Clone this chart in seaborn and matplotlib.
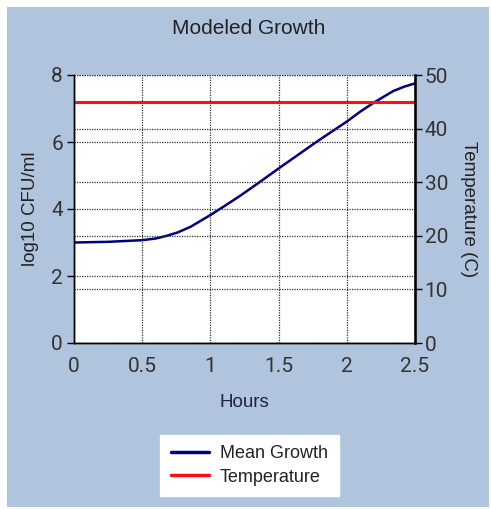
import numpy as np
import pandas as pd
import matplotlib
matplotlib.use("Agg")
import matplotlib.pyplot as plt
import seaborn as sns
from matplotlib.patches import Rectangle

# values
hours = [0.0, 0.25, 0.5, 0.6, 0.68, 0.76, 0.855, 1.0, 1.1, 1.22, 1.36, 1.5, 1.78, 2.0, 2.1, 2.2, 2.34, 2.42, 2.5]
mean_growth = [3.0, 3.02, 3.07, 3.12, 3.2, 3.3, 3.47, 3.82, 4.08, 4.4, 4.8, 5.21, 6.01, 6.61, 6.91, 7.18, 7.52, 7.65, 7.75]
temp_hours = [0.0, 2.5]
temperature = [45, 45]

growth_df = pd.DataFrame({"Hours": hours, "log10 CFU/ml": mean_growth})
temp_df = pd.DataFrame({"Hours": temp_hours, "Temperature (C)": temperature})

sns.set_style("white")
plt.rcParams['font.family'] = ['Liberation Sans', 'DejaVu Sans']

fig = plt.figure(figsize=(4.91, 5.09), dpi=100, facecolor="white")
# light steel blue panel behind everything
fig.add_artist(Rectangle((7 / 491, 2 / 509), 482 / 491, 500 / 509, transform=fig.transFigure,
                         facecolor="#b0c4de", edgecolor="none", zorder=-10))

ax = fig.add_axes([74 / 491, 1 - 343 / 509, 341 / 491, 268 / 509])
ax.set_facecolor("white")
ax2 = ax.twinx()

sns.lineplot(data=growth_df, x="Hours", y="log10 CFU/ml", ax=ax, color="#000080", linewidth=1.8, label="Mean Growth", legend=False)
sns.lineplot(data=temp_df, x="Hours", y="Temperature (C)", ax=ax2, color="#ff1010", linewidth=2.2, label="Temperature", legend=False)

tick_fam = ["Roboto", "DejaVu Sans"]
ax.set_xlim(0, 2.5)
ax.set_ylim(0, 8)
ax2.set_ylim(0, 50)
ax.set_xticks([0, 0.5, 1, 1.5, 2, 2.5], labels=["0", "0.5", "1", "1.5", "2", "2.5"], fontfamily=tick_fam)
ax.set_yticks([0, 2, 4, 6, 8], labels=["0", "2", "4", "6", "8"], fontfamily=tick_fam)
ax2.set_yticks([0, 10, 20, 30, 40, 50], labels=["0", "10", "20", "30", "40", "50"], fontfamily=tick_fam)

grid_kw = dict(color="#333333", linestyle=(0, (1, 1)), linewidth=0.9)
ax.grid(True, **grid_kw)
ax2.grid(True, axis="y", **grid_kw)
ax.set_axisbelow(True)

for a in (ax, ax2):
    a.spines["top"].set_visible(False)
    for s in ("left", "right", "bottom"):
        a.spines[s].set_color("black")
        a.spines[s].set_linewidth(1.0)
ax2.spines["right"].set_linewidth(1.8)

tick_font = dict(labelsize=15, labelcolor="#333333", color="black", length=5, width=1, direction="out")
ax.tick_params(axis="both", pad=3, **tick_font)
ax.tick_params(axis="x", pad=5)
ax2.tick_params(axis="y", pad=2, **tick_font)

ax.set_xlabel("Hours", fontsize=13.5, color="#222244", labelpad=13)
ax.set_ylabel("log10 CFU/ml", fontsize=13.5, color="#222222", labelpad=9)
ax2.set_ylabel("Temperature (C)", fontsize=13.5, color="#222222", rotation=270, labelpad=21)

fig.text(249 / 491, 1 - 28 / 509, "Modeled Growth", ha="center", va="center", fontsize=15, color="#222222")

handles = ax.get_lines()[:1] + ax2.get_lines()[:1]
leg = fig.legend(handles, ["Mean Growth", "Temperature"], loc="center",
                 bbox_to_anchor=(249.5 / 491, 1 - 465.5 / 509), fontsize=13,
                 frameon=True, fancybox=False, framealpha=1, handlelength=2.1,
                 handletextpad=0.6, borderpad=0.6, labelspacing=0.35, borderaxespad=0)
leg.get_frame().set_facecolor("white")
leg.get_frame().set_edgecolor("white")
for line in leg.get_lines():
    line.set_linewidth(2.5)
for t in leg.get_texts():
    t.set_color("#222222")

fig.savefig("out.png", dpi=100, facecolor="white")
